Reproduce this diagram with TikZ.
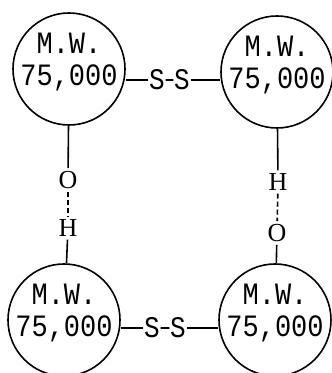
\documentclass[tikz,border=0pt]{standalone}
\usepackage{fontspec}
\setmainfont{Liberation Serif}
\setmonofont{Liberation Mono}
\begin{document}
\begin{tikzpicture}[x=0.5pt,y=0.5pt,line width=0.8pt,
    unit/.style={draw,circle,minimum size=56pt,inner sep=0pt},
    mw/.style={align=center,inner sep=0pt,yscale=1.15,transform shape,
      font=\ttfamily\fontsize{13.5}{14}\selectfont},
    sulf/.style={inner sep=0pt,yscale=1.15,transform shape,
      font=\ttfamily\fontsize{13}{13}\selectfont},
    atom/.style={inner sep=1.2pt,font=\fontsize{13}{13}\selectfont},
    hbond/.style={dash pattern=on 2.5pt off 1.5pt}]
  \useasboundingbox (0,0) rectangle (331,373);
  % subunits
  \node[unit] (tl) at (69,304) {};
  \node[unit] (tr) at (277,301) {};
  \node[unit] (bl) at (64,53) {};
  \node[unit] (br) at (275,53) {};
  \foreach \u in {tl,tr,bl,br}
    \node[mw,yshift=3pt] (\u txt) at (\u) {M.W.\\75,000};
  % disulfide bridges
  \node[sulf] (s1) at (157,293) {S};
  \node[sulf] (s2) at (182,293) {S};
  \node[sulf] (s3) at (152,45) {S};
  \node[sulf] (s4) at (178,45) {S};
  \draw (s1.west -| tl.east) -- (s1.west);
  \draw (s1) -- (s2);
  \draw (s2.east) -- (s2.east -| tr.west);
  \draw (s3.west -| bl.east) -- (s3.west);
  \draw (s3) -- (s4);
  \draw (s4.east) -- (s4.east -| br.west);
  % hydrogen bonds
  \node[atom] (o1) at (68,193) {O};
  \node[atom] (h1) at (68,145) {H};
  \node[atom] (h2) at (278,191) {H};
  \node[atom] (o2) at (277,140) {O};
  \draw (tl) -- (o1);
  \draw[hbond] (o1) -- (h1);
  \draw (h1) -- (bl);
  \draw (tr) -- (h2);
  \draw[hbond] (h2) -- (o2);
  \draw (o2) -- (br);
\end{tikzpicture}
\end{document}
